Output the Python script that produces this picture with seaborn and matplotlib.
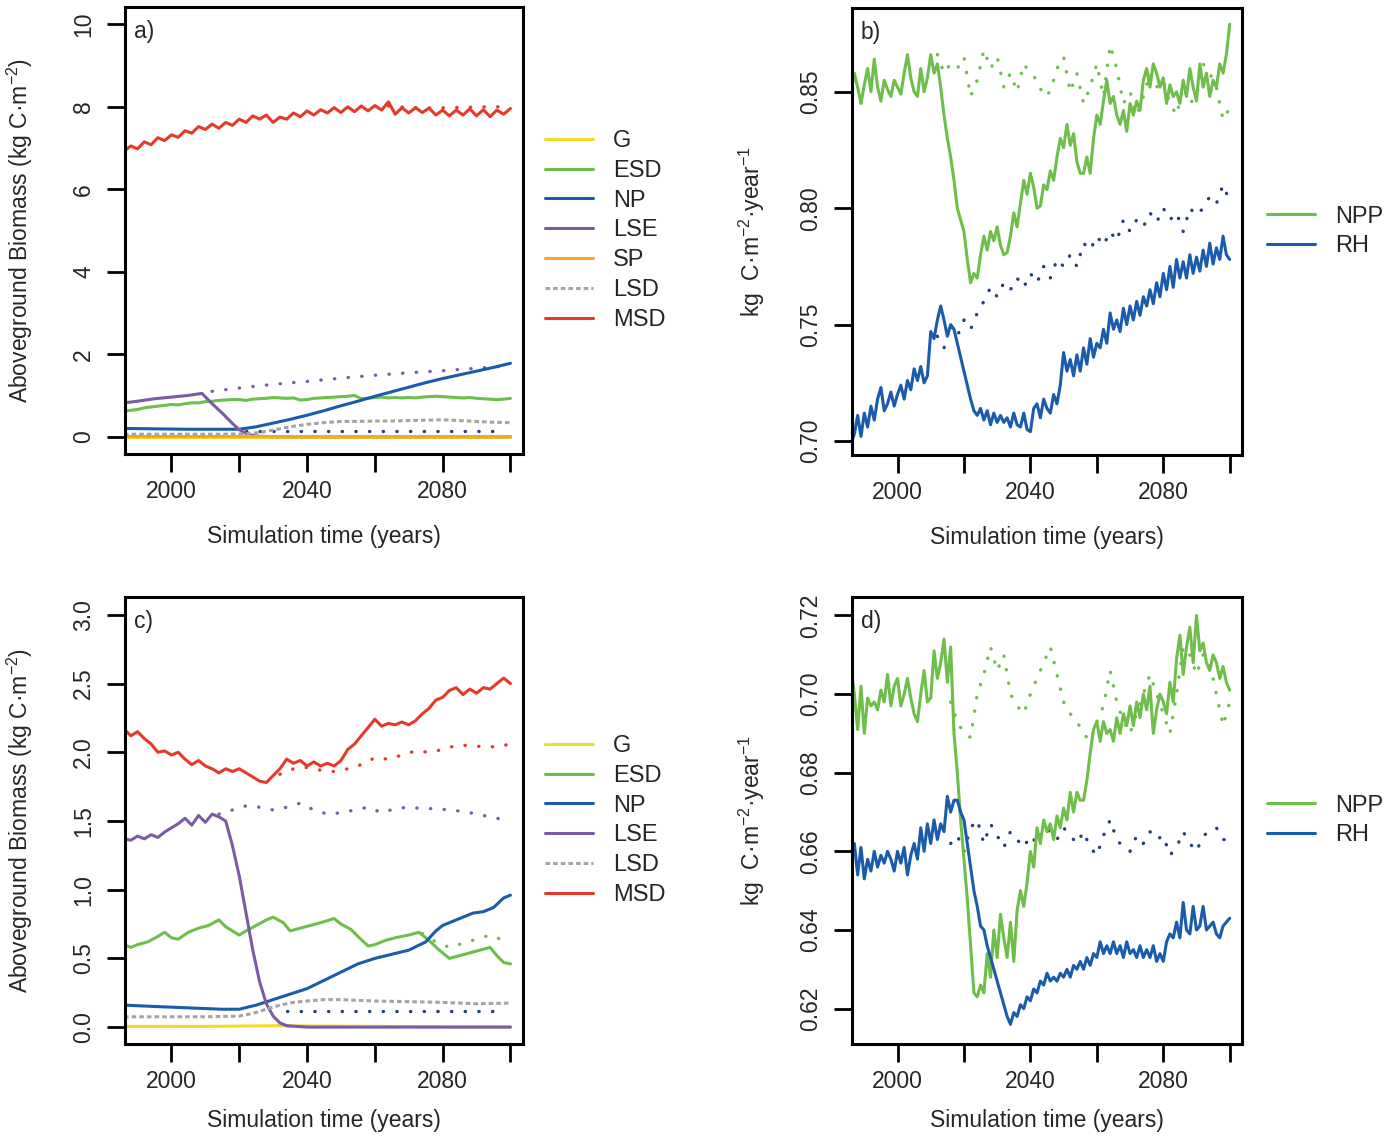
import numpy as np
import pandas as pd
import matplotlib.pyplot as plt
from matplotlib.lines import Line2D
import seaborn as sns

# year grids (x positions only)
years1 = list(range(1986, 2101))        # yearly
years2 = list(range(1986, 2101, 2))     # every 2 years

# ---------------- panel a) ----------------
a_msd = [6.92, 7.05, 6.98, 7.15, 7.08, 7.25, 7.18, 7.32, 7.26, 7.42,
         7.36, 7.52, 7.45, 7.58, 7.48, 7.62, 7.55, 7.70, 7.62, 7.78,
         7.70, 7.80, 7.62, 7.75, 7.70, 7.85, 7.76, 7.90, 7.80, 7.93,
         7.85, 7.98, 7.86, 8.00, 7.88, 8.02, 7.90, 8.03, 7.92, 8.12,
         7.82, 7.98, 7.85, 7.98, 7.86, 7.97, 7.80, 7.92, 7.78, 7.92,
         7.80, 7.95, 7.78, 7.93, 7.76, 7.92, 7.82, 7.96]
a_esd = [0.62, 0.64, 0.66, 0.70, 0.72, 0.74, 0.76, 0.78, 0.77, 0.80,
         0.82, 0.82, 0.85, 0.86, 0.88, 0.89, 0.90, 0.90, 0.88, 0.91,
         0.92, 0.93, 0.95, 0.94, 0.93, 0.94, 0.89, 0.90, 0.93, 0.94,
         0.95, 0.96, 0.97, 0.98, 1.00, 0.92, 0.93, 0.95, 0.96, 0.94,
         0.95, 0.94, 0.95, 0.94, 0.96, 0.97, 0.98, 0.97, 0.96, 0.95,
         0.94, 0.95, 0.93, 0.92, 0.91, 0.90, 0.91, 0.93]
a_np_years = [1986, 1995, 2005, 2015, 2020, 2025, 2030, 2035, 2040, 2045, 2050,
              2055, 2060, 2065, 2070, 2075, 2080, 2085, 2090, 2095, 2100]
a_np = [0.20, 0.19, 0.18, 0.18, 0.18, 0.24, 0.33, 0.42, 0.52, 0.63, 0.75,
        0.86, 0.98, 1.09, 1.20, 1.31, 1.41, 1.50, 1.59, 1.68, 1.78]
a_lse_years = [1986, 1990, 1995, 2000, 2005, 2009, 2012, 2015, 2018, 2020,
               2022, 2024, 2026, 2030, 2060, 2100]
a_lse = [0.82, 0.86, 0.92, 0.96, 1.00, 1.05, 0.80, 0.57, 0.32, 0.17,
         0.08, 0.03, 0.01, 0.0, 0.0, 0.0]
a_lsd_years = [1986, 1995, 2005, 2015, 2022, 2026, 2030, 2035, 2040, 2045, 2050,
               2055, 2060, 2065, 2070, 2075, 2080, 2085, 2090, 2095, 2100]
a_lsd = [0.06, 0.06, 0.06, 0.06, 0.07, 0.10, 0.16, 0.24, 0.30, 0.34, 0.37,
         0.37, 0.38, 0.38, 0.39, 0.40, 0.41, 0.39, 0.37, 0.35, 0.34]
a_g_years = [1986, 2040, 2100]
a_g = [0.0, 0.0, 0.0]
a_sp_years = [1986, 2040, 2100]
a_sp = [0.01, 0.01, 0.01]
# baseline (dotted) runs
a_lse_base_years = [2012, 2020, 2030, 2040, 2050, 2060, 2070, 2080, 2090, 2100]
a_lse_base = [1.10, 1.18, 1.27, 1.34, 1.42, 1.49, 1.55, 1.60, 1.66, 1.72]
a_np_base_years = [2022, 2040, 2060, 2080, 2098]
a_np_base = [0.14, 0.14, 0.14, 0.14, 0.14]
a_msd_base_years = [2064, 2070, 2076, 2082, 2088, 2094, 2100]
a_msd_base = [8.02, 7.98, 7.97, 7.98, 7.99, 8.00, 8.00]

# ---------------- panel c) ----------------
c_msd = [2.17, 2.12, 2.15, 2.10, 2.06, 2.00, 2.01, 1.98, 2.00, 1.95,
         1.91, 1.94, 1.90, 1.88, 1.85, 1.88, 1.86, 1.88, 1.85, 1.82,
         1.79, 1.78, 1.83, 1.88, 1.95, 1.92, 1.94, 1.90, 1.93, 1.90,
         1.92, 1.90, 1.94, 2.02, 2.06, 2.12, 2.18, 2.24, 2.19, 2.21,
         2.20, 2.22, 2.20, 2.23, 2.28, 2.32, 2.38, 2.40, 2.45, 2.47,
         2.42, 2.46, 2.43, 2.47, 2.46, 2.50, 2.54, 2.50]
c_lse_years = [1986, 1988, 1990, 1992, 1994, 1996, 1998, 2000, 2002, 2004,
               2006, 2008, 2010, 2012, 2014, 2016, 2018, 2020, 2022, 2024,
               2026, 2028, 2030, 2032, 2034, 2040, 2060, 2080, 2100]
c_lse = [1.37, 1.36, 1.39, 1.37, 1.40, 1.38, 1.42, 1.45, 1.48, 1.52,
         1.47, 1.54, 1.49, 1.55, 1.53, 1.50, 1.32, 1.10, 0.83, 0.56,
         0.33, 0.17, 0.08, 0.03, 0.01, 0.0, 0.0, 0.0, 0.0]
c_esd_years = [1986, 1988, 1990, 1993, 1996, 1998, 2000, 2002, 2005, 2008,
               2011, 2014, 2016, 2018, 2020, 2022, 2025, 2028, 2030, 2033,
               2035, 2038, 2041, 2044, 2048, 2050, 2053, 2055, 2058, 2060,
               2063, 2066, 2070, 2073, 2076, 2079, 2082, 2085, 2088, 2091,
               2094, 2096, 2098, 2100]
c_esd = [0.60, 0.58, 0.60, 0.62, 0.66, 0.69, 0.65, 0.64, 0.69, 0.72,
         0.74, 0.78, 0.73, 0.70, 0.67, 0.70, 0.74, 0.78, 0.80, 0.76,
         0.70, 0.72, 0.74, 0.76, 0.79, 0.75, 0.71, 0.66, 0.59, 0.60,
         0.63, 0.65, 0.67, 0.69, 0.63, 0.56, 0.50, 0.52, 0.54, 0.56,
         0.58, 0.52, 0.47, 0.46]
c_np_years = [1986, 1995, 2005, 2015, 2020, 2025, 2030, 2035, 2040, 2045, 2050,
              2055, 2060, 2065, 2070, 2075, 2078, 2080, 2083, 2086, 2089, 2092,
              2095, 2098, 2100]
c_np = [0.16, 0.15, 0.14, 0.13, 0.13, 0.16, 0.20, 0.24, 0.28, 0.34, 0.40,
        0.46, 0.50, 0.53, 0.56, 0.62, 0.70, 0.74, 0.77, 0.80, 0.83, 0.84,
        0.87, 0.94, 0.96]
c_lsd_years = [1986, 2000, 2010, 2020, 2024, 2028, 2032, 2036, 2040, 2045,
               2050, 2060, 2070, 2080, 2090, 2100]
c_lsd = [0.075, 0.075, 0.075, 0.08, 0.10, 0.13, 0.16, 0.18, 0.19, 0.20,
         0.20, 0.19, 0.185, 0.18, 0.17, 0.175]
c_g_years = [1986, 2010, 2030, 2100]
c_g = [0.005, 0.005, 0.01, 0.0]
c_msd_base_years = [2032, 2036, 2040, 2044, 2048, 2052, 2056, 2060, 2064,
                    2068, 2072, 2076, 2080, 2084, 2088, 2092, 2096, 2100]
c_msd_base = [1.84, 1.88, 1.89, 1.87, 1.86, 1.88, 1.91, 1.96, 1.95,
              1.98, 2.01, 2.00, 2.02, 2.05, 2.05, 2.04, 2.04, 2.06]
c_lse_base_years = [2014, 2018, 2022, 2026, 2030, 2034, 2038, 2042, 2046, 2050,
                    2054, 2058, 2062, 2066, 2070, 2074, 2078, 2082, 2086, 2090,
                    2094, 2098, 2100]
c_lse_base = [1.55, 1.58, 1.61, 1.60, 1.58, 1.60, 1.63, 1.58, 1.55, 1.56,
              1.58, 1.60, 1.56, 1.59, 1.60, 1.59, 1.59, 1.58, 1.57, 1.55,
              1.53, 1.51, 1.52]
c_esd_base_years = [2074, 2078, 2082, 2086, 2090, 2094, 2098, 2100]
c_esd_base = [0.68, 0.62, 0.58, 0.61, 0.64, 0.67, 0.63, 0.61]
c_np_base_years = [2034, 2050, 2070, 2098]
c_np_base = [0.12, 0.12, 0.12, 0.12]

# ---------------- panel b) ----------------
b_npp = [0.850, 0.858, 0.852, 0.845, 0.853, 0.860, 0.850, 0.864, 0.852, 0.846,
         0.855, 0.851, 0.848, 0.855, 0.852, 0.849, 0.858, 0.866, 0.856, 0.850,
         0.848, 0.860, 0.850, 0.856, 0.866, 0.858, 0.862, 0.852, 0.840, 0.830,
         0.822, 0.812, 0.800, 0.795, 0.790, 0.778, 0.768, 0.772, 0.770, 0.780,
         0.788, 0.782, 0.790, 0.786, 0.792, 0.784, 0.780, 0.781, 0.788, 0.798,
         0.792, 0.802, 0.812, 0.806, 0.815, 0.809, 0.800, 0.801, 0.810, 0.808,
         0.816, 0.812, 0.822, 0.830, 0.826, 0.836, 0.827, 0.832, 0.820, 0.815,
         0.815, 0.822, 0.815, 0.830, 0.840, 0.836, 0.846, 0.855, 0.845, 0.848,
         0.840, 0.836, 0.842, 0.833, 0.845, 0.840, 0.846, 0.842, 0.855, 0.860,
         0.852, 0.862, 0.858, 0.852, 0.856, 0.845, 0.853, 0.848, 0.850, 0.845,
         0.855, 0.848, 0.860, 0.852, 0.846, 0.862, 0.852, 0.858, 0.848, 0.855,
         0.852, 0.862, 0.858, 0.866, 0.879]
b_rh = [0.699, 0.703, 0.711, 0.702, 0.712, 0.706, 0.715, 0.709, 0.718, 0.723,
        0.713, 0.716, 0.721, 0.715, 0.720, 0.724, 0.718, 0.726, 0.722, 0.731,
        0.726, 0.732, 0.725, 0.728, 0.747, 0.744, 0.752, 0.758, 0.752, 0.745,
        0.750, 0.748, 0.742, 0.736, 0.730, 0.724, 0.718, 0.713, 0.711, 0.714,
        0.709, 0.713, 0.707, 0.712, 0.708, 0.711, 0.708, 0.710, 0.706, 0.712,
        0.707, 0.706, 0.712, 0.705, 0.704, 0.714, 0.716, 0.710, 0.718, 0.714,
        0.712, 0.720, 0.716, 0.724, 0.738, 0.730, 0.735, 0.728, 0.737, 0.730,
        0.740, 0.733, 0.744, 0.736, 0.742, 0.740, 0.748, 0.742, 0.755, 0.748,
        0.752, 0.747, 0.757, 0.750, 0.758, 0.752, 0.760, 0.754, 0.762, 0.758,
        0.765, 0.759, 0.768, 0.762, 0.772, 0.765, 0.775, 0.766, 0.778, 0.770,
        0.777, 0.770, 0.780, 0.772, 0.779, 0.773, 0.782, 0.775, 0.785, 0.776,
        0.783, 0.778, 0.788, 0.780, 0.778]
b_base_years = list(range(2012, 2101, 2))
b_npp_base = [0.866, 0.858, 0.862, 0.860, 0.865, 0.848, 0.855, 0.868, 0.860, 0.865,
              0.852, 0.858, 0.850, 0.862, 0.858, 0.855, 0.848, 0.850, 0.860, 0.865,
              0.850, 0.858, 0.845, 0.852, 0.862, 0.848, 0.870, 0.860, 0.845, 0.850,
              0.840, 0.848, 0.858, 0.852, 0.855, 0.845, 0.840, 0.852, 0.845, 0.848,
              0.862, 0.858, 0.852, 0.838, 0.843]
b_rh_base = [0.745, 0.740, 0.750, 0.745, 0.752, 0.748, 0.755, 0.760, 0.766, 0.762,
             0.768, 0.765, 0.770, 0.766, 0.772, 0.768, 0.775, 0.770, 0.778, 0.775,
             0.780, 0.775, 0.785, 0.782, 0.788, 0.784, 0.790, 0.786, 0.795, 0.790,
             0.795, 0.792, 0.798, 0.794, 0.800, 0.795, 0.798, 0.790, 0.800, 0.797,
             0.800, 0.805, 0.802, 0.810, 0.803]

# ---------------- panel d) ----------------
d_npp = [0.707, 0.700, 0.691, 0.702, 0.690, 0.699, 0.697, 0.698, 0.696, 0.701,
         0.698, 0.705, 0.697, 0.702, 0.704, 0.697, 0.700, 0.704, 0.699, 0.695,
         0.693, 0.700, 0.706, 0.698, 0.699, 0.711, 0.704, 0.708, 0.714, 0.703,
         0.712, 0.690, 0.680, 0.668, 0.658, 0.648, 0.636, 0.624, 0.623, 0.626,
         0.624, 0.634, 0.628, 0.640, 0.633, 0.644, 0.638, 0.633, 0.642, 0.632,
         0.645, 0.650, 0.646, 0.652, 0.660, 0.656, 0.666, 0.662, 0.668, 0.665,
         0.667, 0.663, 0.669, 0.666, 0.671, 0.668, 0.675, 0.670, 0.675, 0.673,
         0.673, 0.678, 0.685, 0.691, 0.693, 0.688, 0.693, 0.690, 0.691, 0.688,
         0.694, 0.690, 0.695, 0.692, 0.697, 0.692, 0.698, 0.694, 0.700, 0.696,
         0.702, 0.690, 0.696, 0.700, 0.698, 0.695, 0.703, 0.698, 0.709, 0.715,
         0.705, 0.712, 0.717, 0.708, 0.720, 0.711, 0.713, 0.708, 0.706, 0.710,
         0.708, 0.704, 0.707, 0.703, 0.701]
d_rh = [0.660, 0.662, 0.654, 0.661, 0.653, 0.658, 0.655, 0.660, 0.656, 0.659,
        0.657, 0.660, 0.658, 0.655, 0.660, 0.657, 0.661, 0.654, 0.659, 0.662,
        0.658, 0.666, 0.660, 0.667, 0.662, 0.668, 0.663, 0.667, 0.665, 0.674,
        0.670, 0.673, 0.673, 0.670, 0.668, 0.662, 0.656, 0.650, 0.646, 0.641,
        0.640, 0.636, 0.633, 0.630, 0.627, 0.624, 0.621, 0.618, 0.616, 0.619,
        0.618, 0.621, 0.620, 0.623, 0.622, 0.625, 0.624, 0.627, 0.626, 0.629,
        0.627, 0.628, 0.627, 0.629, 0.628, 0.630, 0.628, 0.631, 0.630, 0.632,
        0.630, 0.633, 0.631, 0.634, 0.633, 0.637, 0.634, 0.636, 0.634, 0.637,
        0.634, 0.636, 0.633, 0.637, 0.634, 0.635, 0.633, 0.636, 0.633, 0.635,
        0.633, 0.636, 0.632, 0.634, 0.632, 0.637, 0.639, 0.638, 0.642, 0.638,
        0.647, 0.640, 0.639, 0.646, 0.640, 0.641, 0.646, 0.640, 0.641, 0.642,
        0.639, 0.638, 0.641, 0.642, 0.643]
d_base_years = list(range(2016, 2101, 2))
d_npp_base = [0.698, 0.693, 0.690, 0.689, 0.700, 0.705, 0.712, 0.706, 0.710, 0.700,
              0.697, 0.695, 0.700, 0.704, 0.708, 0.712, 0.705, 0.698, 0.695, 0.693,
              0.690, 0.688, 0.693, 0.697, 0.706, 0.698, 0.693, 0.690, 0.695, 0.700,
              0.705, 0.700, 0.695, 0.690, 0.700, 0.712, 0.710, 0.705, 0.710, 0.708,
              0.700, 0.692, 0.698]
d_rh_base = [0.662, 0.664, 0.660, 0.666, 0.668, 0.662, 0.667, 0.664, 0.661, 0.665,
             0.663, 0.661, 0.664, 0.662, 0.666, 0.665, 0.663, 0.666, 0.664, 0.662,
             0.665, 0.661, 0.659, 0.664, 0.668, 0.663, 0.661, 0.660, 0.664, 0.662,
             0.665, 0.663, 0.664, 0.659, 0.661, 0.665, 0.662, 0.660, 0.664, 0.665,
             0.666, 0.663, 0.663]

# colours
col = {'G': '#F2DC2A', 'ESD': '#6DBE4B', 'NP': '#1A5CAB', 'LSE': '#7B5BA6',
       'SP': '#F6A723', 'LSD': '#A4A4A4', 'MSD': '#E5392B',
       'NPP': '#6DBE4B', 'RH': '#1A5CAB'}
base_col = {'ESD': '#6DBE4B', 'NP': '#23407A', 'LSE': '#7B5BA6', 'MSD': '#E5392B',
            'NPP': '#6DBE4B', 'RH': '#23407A'}
LSD_STYLE = (0, (1.5, 1.0))
DOT = (0, (0.1, 4))
FS = 16.5

sns.set_style("white")
plt.rcParams['font.family'] = ['Liberation Sans', 'DejaVu Sans']
plt.rcParams['mathtext.fontset'] = 'custom'
plt.rcParams['mathtext.rm'] = 'Liberation Sans'
plt.rcParams['mathtext.it'] = 'Liberation Sans:italic'
plt.rcParams['mathtext.default'] = 'regular'

W, H = 1392, 1137
fig = plt.figure(figsize=(W / 100, H / 100), dpi=100)


def add_ax(l, t, r, b):
    return fig.add_axes([l / W, 1 - b / H, (r - l) / W, (b - t) / H])


def solid(ax, x, y, c, ls='-', lw=2.2):
    sns.lineplot(x=x, y=y, ax=ax, color=c, linestyle=ls, linewidth=lw)


def dotted(ax, x, y, c):
    sns.lineplot(x=x, y=y, ax=ax, color=c, linestyle=DOT, linewidth=2.4,
                 dash_capstyle='round')


def style(ax, ylim, yticks, yfmt, tag, ylabel, ylab_x, xlab_y):
    ax.set_xlim(1986.3, 2103.7)
    ax.set_ylim(*ylim)
    ax.set_xticks([2000, 2020, 2040, 2060, 2080, 2100])
    ax.set_xticklabels(['2000', '', '2040', '', '2080', ''])
    ax.set_yticks(yticks)
    ax.set_yticklabels([yfmt.format(v) for v in yticks], rotation=90, va='center')
    for s in ax.spines.values():
        s.set_visible(True)
        s.set_linewidth(2.2)
        s.set_color('black')
    ax.tick_params(direction='out', length=13, width=2, labelsize=FS,
                   color='black', bottom=True, left=True)
    ax.tick_params(axis='x', pad=6)
    ax.tick_params(axis='y', pad=8.5)
    ax.set_xlabel('Simulation time (years)', fontsize=FS)
    ax.xaxis.set_label_coords(0.5, xlab_y)
    ax.set_ylabel(ylabel, fontsize=FS)
    ax.yaxis.set_label_coords(ylab_x, 0.5)
    ax.text(0.022, 0.97, tag, transform=ax.transAxes, ha='left', va='top', fontsize=FS)


def legend(ax, names, x):
    handles = []
    for n in names:
        if n == 'LSD':
            handles.append(Line2D([], [], color=col[n], lw=2.2, linestyle=LSD_STYLE))
        else:
            handles.append(Line2D([], [], color=col[n], lw=2.2))
    ax.legend(handles=handles, labels=names, loc='center left',
              bbox_to_anchor=(x, 0.5), frameon=False, fontsize=FS + 0.5,
              handlelength=2.05, handletextpad=0.85, labelspacing=0.33,
              borderpad=0, borderaxespad=0)


ylab_bio = 'Aboveground Biomass (kg C·m$^{-2}$)'
ylab_flux = 'kg  C·m$^{-2}$·year$^{-1}$'

# panel a
ax_a = add_ax(125, 7, 523, 454)
dotted(ax_a, a_lse_base_years, a_lse_base, base_col['LSE'])
dotted(ax_a, a_np_base_years, a_np_base, base_col['NP'])
dotted(ax_a, a_msd_base_years, a_msd_base, base_col['MSD'])
solid(ax_a, a_g_years, a_g, col['G'])
solid(ax_a, years2, a_esd, col['ESD'])
solid(ax_a, a_np_years, a_np, col['NP'])
solid(ax_a, a_lse_years, a_lse, col['LSE'])
solid(ax_a, a_sp_years, a_sp, col['SP'])
solid(ax_a, a_lsd_years, a_lsd, col['LSD'], ls=LSD_STYLE)
solid(ax_a, years2, a_msd, col['MSD'])
style(ax_a, (-0.42, 10.42), [0, 2, 4, 6, 8, 10], '{:g}', 'a)', ylab_bio, -0.227, -0.158)
legend(ax_a, ['G', 'ESD', 'NP', 'LSE', 'SP', 'LSD', 'MSD'], 1.055)

# panel b
ax_b = add_ax(852, 8, 1242, 455)
dotted(ax_b, b_base_years, b_npp_base, base_col['NPP'])
dotted(ax_b, b_base_years, b_rh_base, base_col['RH'])
solid(ax_b, years1, b_npp, col['NPP'])
solid(ax_b, years1, b_rh, col['RH'])
style(ax_b, (0.694, 0.886), [0.70, 0.75, 0.80, 0.85], '{:.2f}', 'b)', ylab_flux, -0.218, -0.158)
legend(ax_b, ['NPP', 'RH'], 1.064)

# panel c
ax_c = add_ax(125, 597, 523, 1044)
dotted(ax_c, c_lse_base_years, c_lse_base, base_col['LSE'])
dotted(ax_c, c_msd_base_years, c_msd_base, base_col['MSD'])
dotted(ax_c, c_esd_base_years, c_esd_base, base_col['ESD'])
dotted(ax_c, c_np_base_years, c_np_base, base_col['NP'])
solid(ax_c, c_g_years, c_g, col['G'])
solid(ax_c, c_esd_years, c_esd, col['ESD'])
solid(ax_c, c_np_years, c_np, col['NP'])
solid(ax_c, c_lse_years, c_lse, col['LSE'])
solid(ax_c, c_lsd_years, c_lsd, col['LSD'], ls=LSD_STYLE)
solid(ax_c, years2, c_msd, col['MSD'])
style(ax_c, (-0.123, 3.13), [0, 0.5, 1.0, 1.5, 2.0, 2.5, 3.0], '{:.1f}', 'c)', ylab_bio, -0.227, -0.145)
legend(ax_c, ['G', 'ESD', 'NP', 'LSE', 'LSD', 'MSD'], 1.055)

# panel d
ax_d = add_ax(852, 597, 1242, 1044)
dotted(ax_d, d_base_years, d_npp_base, base_col['NPP'])
dotted(ax_d, d_base_years, d_rh_base, base_col['RH'])
solid(ax_d, years1, d_npp, col['NPP'])
solid(ax_d, years1, d_rh, col['RH'])
style(ax_d, (0.611, 0.7247), [0.62, 0.64, 0.66, 0.68, 0.70, 0.72], '{:.2f}', 'd)', ylab_flux, -0.218, -0.145)
legend(ax_d, ['NPP', 'RH'], 1.064)

fig.savefig('out.png', dpi=100)
